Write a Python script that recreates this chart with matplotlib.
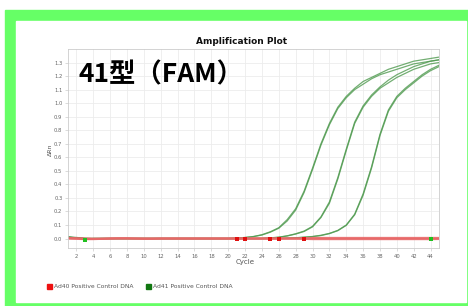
import matplotlib.pyplot as plt
import matplotlib.patches as mpatches
import numpy as np

plt.rcParams['font.family'] = ['DejaVu Sans']

# --- Data ---
cycles = list(range(1, 46))

# Ad41 (green), three duplicate pairs
ad41_a1 = [0.012, 0.008, 0.002, 0.0, 0.0, 0.0, 0.0, 0.0, 0.0, 0.0,
           0.0, 0.0, 0.0, 0.0, 0.0, 0.0, 0.0, 0.0, 0.0, 0.0,
           0.003, 0.008, 0.015, 0.028, 0.05, 0.08, 0.14, 0.22, 0.35, 0.52,
           0.70, 0.85, 0.97, 1.05, 1.11, 1.16, 1.19, 1.22, 1.25, 1.27,
           1.29, 1.31, 1.32, 1.33, 1.34]
ad41_a2 = [0.010, 0.004, -0.008, -0.002, 0.0, 0.0, 0.0, 0.0, 0.0, 0.0,
           0.0, 0.0, 0.0, 0.0, 0.0, 0.0, 0.0, 0.0, 0.0, 0.0,
           0.003, 0.007, 0.014, 0.026, 0.047, 0.076, 0.13, 0.21, 0.34, 0.51,
           0.69, 0.84, 0.96, 1.04, 1.10, 1.14, 1.18, 1.21, 1.23, 1.25,
           1.27, 1.29, 1.30, 1.31, 1.32]
ad41_b1 = [0.010, 0.006, 0.0, 0.0, 0.0, 0.0, 0.0, 0.0, 0.0, 0.0,
           0.0, 0.0, 0.0, 0.0, 0.0, 0.0, 0.0, 0.0, 0.0, 0.0,
           0.0, 0.0, 0.0, 0.0, 0.005, 0.01, 0.02, 0.035, 0.055, 0.09,
           0.16, 0.27, 0.45, 0.66, 0.86, 0.98, 1.06, 1.12, 1.17, 1.21,
           1.24, 1.27, 1.29, 1.31, 1.32]
ad41_b2 = [0.008, 0.004, -0.004, 0.0, 0.0, 0.0, 0.0, 0.0, 0.0, 0.0,
           0.0, 0.0, 0.0, 0.0, 0.0, 0.0, 0.0, 0.0, 0.0, 0.0,
           0.0, 0.0, 0.0, 0.0, 0.004, 0.009, 0.019, 0.033, 0.052, 0.086,
           0.155, 0.26, 0.44, 0.65, 0.85, 0.97, 1.05, 1.11, 1.15, 1.19,
           1.22, 1.25, 1.27, 1.29, 1.30]
ad41_c1 = [0.010, 0.005, 0.0, 0.0, 0.0, 0.0, 0.0, 0.0, 0.0, 0.0,
           0.0, 0.0, 0.0, 0.0, 0.0, 0.0, 0.0, 0.0, 0.0, 0.0,
           0.0, 0.0, 0.0, 0.0, 0.0, 0.0, 0.003, 0.006, 0.01, 0.015,
           0.024, 0.038, 0.06, 0.10, 0.18, 0.33, 0.53, 0.77, 0.95, 1.05,
           1.11, 1.16, 1.21, 1.25, 1.28]
ad41_c2 = [0.009, 0.003, -0.006, 0.0, 0.0, 0.0, 0.0, 0.0, 0.0, 0.0,
           0.0, 0.0, 0.0, 0.0, 0.0, 0.0, 0.0, 0.0, 0.0, 0.0,
           0.0, 0.0, 0.0, 0.0, 0.0, 0.0, 0.002, 0.005, 0.009, 0.014,
           0.022, 0.036, 0.058, 0.097, 0.175, 0.32, 0.52, 0.76, 0.94, 1.04,
           1.10, 1.15, 1.20, 1.24, 1.27]

# Ad40 (red), flat near zero
ad40_a = [0.004, 0.002, 0.0, -0.002, -0.002, 0.0, 0.002, 0.002, 0.0, -0.002,
          -0.002, 0.0, 0.0, 0.0, 0.0, 0.0, 0.0, 0.0, 0.0, 0.0,
          0.0, 0.0, 0.0, 0.0, 0.0, 0.0, 0.0, 0.0, 0.002, 0.004,
          0.004, 0.004, 0.004, 0.004, 0.004, 0.004, 0.004, 0.004, 0.004, 0.004,
          0.004, 0.004, 0.004, 0.004, 0.004]
ad40_b = [0.0, -0.002, -0.004, -0.004, -0.002, 0.0, 0.0, 0.0, 0.0, 0.0,
          0.0, 0.0, 0.0, 0.0, 0.0, 0.0, 0.0, 0.0, 0.0, 0.0,
          0.0, 0.0, 0.0, 0.0, 0.0, 0.0, 0.0, 0.0, -0.002, -0.004,
          -0.004, -0.004, -0.004, -0.004, -0.004, -0.004, -0.004, -0.004, -0.004, -0.004,
          -0.004, -0.004, -0.004, -0.004, -0.003]

red_marks = [21, 22, 25, 26, 29, 44]
green_marks = [3, 44]

yticks = [round(0.1 * i, 1) for i in range(14)]
xticks = list(range(2, 46, 2))

# --- Figure ---
fig = plt.figure(figsize=(4.68, 3.06), dpi=100)
W, H = 468, 306


def px(x, y, w, h):
    return (x / W, 1 - (y + h) / H, w / W, h / H)


fig.patches.append(mpatches.Rectangle(px(5, 10, 470, 300)[:2], 470 / W, 300 / H,
                                      transform=fig.transFigure, color='#66ff66', zorder=0))
fig.patches.append(mpatches.Rectangle(px(16, 21, 450, 281)[:2], 450 / W, 281 / H,
                                      transform=fig.transFigure, color='white', zorder=0))

ax = fig.add_axes([68 / W, 1 - 248 / H, (439 - 68) / W, (248 - 49) / H])
ax.set_zorder(2)

green = '#4f9a4f'
for ys in [ad41_a1, ad41_a2, ad41_b1, ad41_b2, ad41_c1, ad41_c2]:
    ax.plot(cycles, ys, color=green, lw=0.9, alpha=0.8)
for ys in [ad40_a, ad40_b]:
    ax.plot(cycles, ys, color='#e86868', lw=1.6, alpha=0.9)

ax.plot(red_marks, [0.0] * len(red_marks), 's', color='#e01010', ms=2.2, mew=0)
ax.plot(green_marks, [-0.012, -0.005], 's', color='#20c020', ms=2.4, mew=0)

ax.set_xlim(1, 45)
ax.set_ylim(-0.07, 1.4)
ax.set_xticks(xticks)
ax.set_yticks(yticks)
ax.set_yticklabels([f'{v:.1f}' for v in yticks])
ax.grid(True, color='#ececec', lw=0.6)
ax.set_axisbelow(True)
for s in ax.spines.values():
    s.set_color('#cccccc')
    s.set_linewidth(0.6)
ax.tick_params(labelsize=3.8, colors='#cccccc', labelcolor='#666666',
               length=2, width=0.5, pad=2)

fig.text(242 / W, 1 - 41 / H, 'Amplification Plot', ha='center', va='center',
         fontsize=6.5, fontweight='bold', color='#111111')
fig.text(245 / W, 1 - 262 / H, 'Cycle', ha='center', va='center',
         fontsize=5, color='#555555')
fig.text(50 / W, 1 - 150 / H, 'ΔRn', ha='center', va='center', rotation=90,
         fontsize=4.5, color='#555555')
ax.text(0.028, 0.87, '41型（FAM）', transform=ax.transAxes, ha='left', va='center',
        fontsize=19, fontweight='bold', color='black',
        family=['Noto Sans CJK JP', 'DejaVu Sans'], zorder=5)

# legend
fig.patches.append(mpatches.Rectangle(px(47, 284, 5, 5)[:2], 5 / W, 5 / H,
                                      transform=fig.transFigure, color='#ee1111'))
fig.text(54 / W, 1 - 286.5 / H, 'Ad40 Positive Control DNA', ha='left', va='center',
         fontsize=4.3, color='#555555')
fig.patches.append(mpatches.Rectangle(px(146, 284, 5, 5)[:2], 5 / W, 5 / H,
                                      transform=fig.transFigure, color='#117711'))
fig.text(153 / W, 1 - 286.5 / H, 'Ad41 Positive Control DNA', ha='left', va='center',
         fontsize=4.3, color='#555555')

fig.savefig('out.png', dpi=100)
